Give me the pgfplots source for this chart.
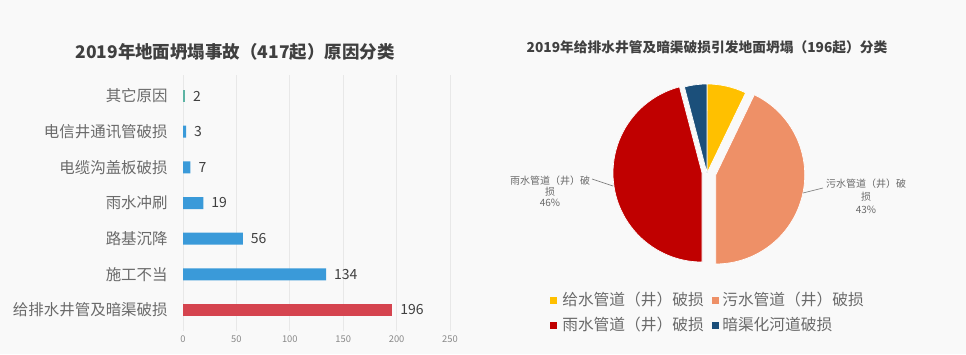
\documentclass[border=0pt]{standalone}
\usepackage{fontspec}
\setmainfont{Noto Sans CJK SC}
\usepackage{pgfplots}
\usepackage{pgfplotstable}
\pgfplotsset{compat=1.18}
\definecolor{barblue}{HTML}{3A9AD9}
\definecolor{barred}{HTML}{D5444F}
\definecolor{barteal}{HTML}{5DB4A4}
\definecolor{pyellow}{HTML}{FFC000}
\definecolor{psalmon}{HTML}{EE9067}
\definecolor{pred}{HTML}{C00000}
\definecolor{pblue}{HTML}{1B4F7A}
\definecolor{txt}{HTML}{404040}
\definecolor{lab}{HTML}{6A6A6A}
\definecolor{bg}{HTML}{F9F9F9}

\pgfplotstableread{
part value
water 14
sewage 84
rain 90
culvert 8
}\piedata

\begin{document}%
\begin{tikzpicture}
\pgfplotstablegetelem{0}{value}\of\piedata \let\vA\pgfplotsretval
\pgfplotstablegetelem{1}{value}\of\piedata \let\vB\pgfplotsretval
\pgfplotstablegetelem{2}{value}\of\piedata \let\vC\pgfplotsretval
\pgfplotstablegetelem{3}{value}\of\piedata \let\vD\pgfplotsretval
\pgfmathsetmacro\tot{\vA+\vB+\vC+\vD}
\pgfmathsetmacro\aA{90}
\pgfmathsetmacro\aB{\aA-\vA/\tot*360}
\pgfmathsetmacro\aC{\aB-\vB/\tot*360}
\pgfmathsetmacro\aD{\aC-\vC/\tot*360}
\pgfmathsetmacro\aE{\aD-\vD/\tot*360}
\def\R{66.75pt}
\useasboundingbox (0pt,0pt) rectangle (724.5pt,265.5pt);
\fill[bg] (0pt,0pt) rectangle (724.5pt,265.5pt);

% ---- left bar chart ----
\begin{axis}[
  at={(137.25pt,16.95pt)}, anchor=south west,
  scale only axis, width=200.25pt, height=192.6pt,
  xbar, bar width=9pt, bar shift=0pt,
  xmin=0, xmax=250, ymin=-0.6, ymax=6.6,
  xtick={0,50,...,250},
  ytick={0,...,6},
  yticklabels={给排水井管及暗渠破损,施工不当,路基沉降,雨水冲刷,电缆沟盖板破损,电信井通讯管破损,其它原因},
  yticklabel style={font=\fontsize{11.6}{13}\selectfont, text=lab, xshift=-8pt},
  xticklabel style={font=\fontsize{7}{8}\selectfont, text=lab!80},
  /pgf/number format/assume math mode=true,
  xmajorgrids, grid style={gray!18, line width=0.6pt},
  axis line style={draw=none},
  major tick length=0pt,
  nodes near coords,
  every node near coord/.append style={font=\fontsize{10.5}{12}\selectfont, text=txt, anchor=west, xshift=2.5pt},
  clip=false,
]
\addplot[fill=barred, draw=none] coordinates {(196,0)};
\addplot[fill=barblue, draw=none] coordinates {(134,1) (56,2) (19,3) (7,4) (3,5)};
\addplot[fill=barteal, draw=none] coordinates {(2,6)};
\end{axis}

% ---- right pie chart ----
\begin{axis}[
  at={(530.25pt,135.75pt)}, anchor=center,
  scale only axis, width=133.5pt, height=133.5pt,
  xmin=-1, xmax=1, ymin=-1, ymax=1,
  hide axis, clip=false,
]
\fill[pyellow, draw=white, line width=0.5pt] (axis cs:0,0) -- ++(\aA:\R) arc[start angle=\aA, end angle=\aB, radius=\R] -- cycle;
\fill[psalmon, draw=white, line width=0.5pt] (axis cs:0.098,-0.022) -- ++(\aB:\R) arc[start angle=\aB, end angle=\aC, radius=\R] -- cycle;
\fill[pred, draw=white, line width=0.5pt] (axis cs:-0.056,0) -- ++(\aC:\R) arc[start angle=\aC, end angle=\aD, radius=\R] -- cycle;
\fill[pblue, draw=white, line width=0.5pt] (axis cs:0,0) -- ++(\aD:\R) arc[start angle=\aD, end angle=\aE, radius=\R] -- cycle;
\end{axis}

\begin{scope}[x=0.75pt,y=0.75pt]
\node[font=\bfseries\fontsize{13.1}{15}\selectfont, text=txt] at (235,302) {2019年地面坍塌事故（417起）原因分类};
\node[font=\bfseries\fontsize{10.3}{12}\selectfont, text=txt] at (707,307) {2019年给排水井管及暗渠破损引发地面坍塌（196起）分类};
% leader lines and labels
\draw[gray, line width=0.5pt] (592,175) -- (613,168);
\draw[gray, line width=0.5pt] (803,161) -- (823,166);
\begin{scope}[font=\fontsize{7.5}{9}\selectfont, text=lab]
\node at (550,173) {雨水管道（井）破};
\node at (550,162) {损};
\node at (550,151) {46\%};
\node at (866,170) {污水管道（井）破};
\node at (866,157) {损};
\node at (866,144) {43\%};
\end{scope}
% legend
\begin{scope}[font=\fontsize{11.8}{13}\selectfont, text=lab]
\fill[pyellow] (549.5,50.5) rectangle (556.5,57.5);
\node[anchor=west, inner sep=0pt] at (562,54) {给水管道（井）破损};
\fill[psalmon] (711.5,50.5) rectangle (718.5,57.5);
\node[anchor=west, inner sep=0pt] at (722,54) {污水管道（井）破损};
\fill[pred] (549.5,25.5) rectangle (556.5,32.5);
\node[anchor=west, inner sep=0pt] at (562,29) {雨水管道（井）破损};
\fill[pblue] (711.5,25.5) rectangle (718.5,32.5);
\node[anchor=west, inner sep=0pt] at (722,29) {暗渠化河道破损};
\end{scope}
\end{scope}
\end{tikzpicture}%
\end{document}
